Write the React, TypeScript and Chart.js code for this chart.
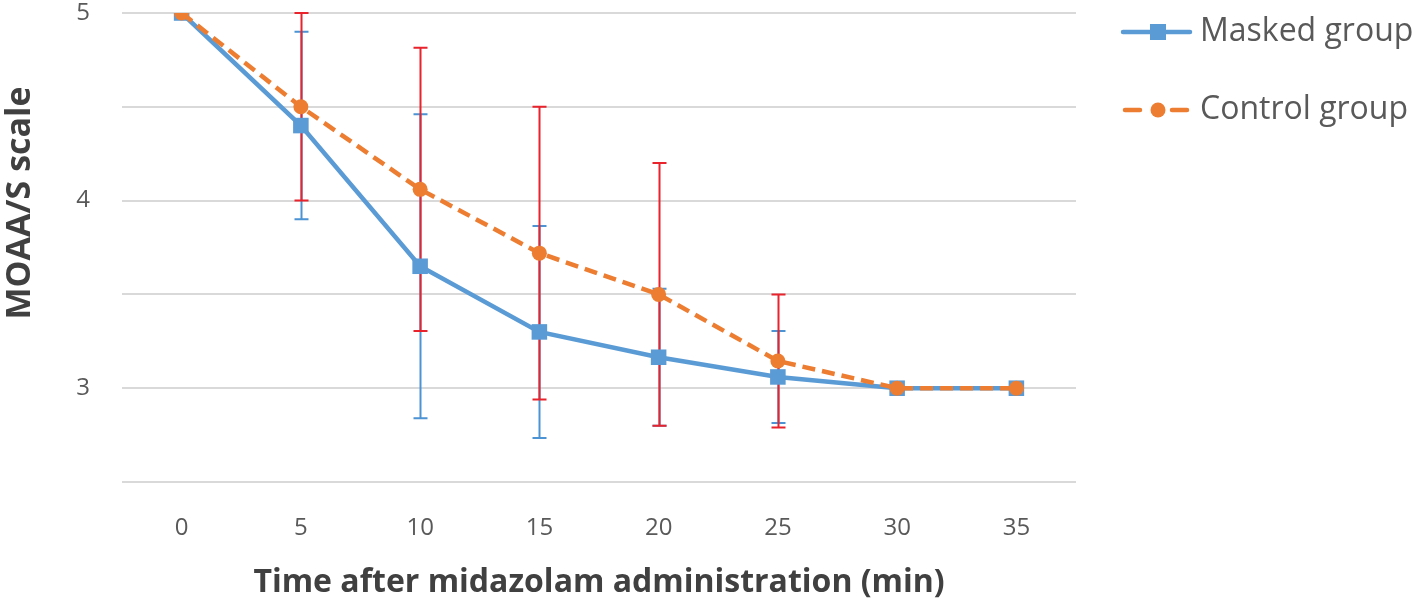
import React, { useEffect, useRef } from 'react';
import { Chart, registerables } from 'chart.js';

Chart.register(...registerables);

const timeLabels = ['0', '5', '10', '15', '20', '25', '30', '35'];
const maskedMeans = [5, 4.4, 3.65, 3.3, 3.165, 3.06, 3, 3];
const maskedSD = [0, 0.5, 0.81, 0.565, 0.365, 0.245, 0, 0];
const controlMeans = [5, 4.5, 4.06, 3.72, 3.5, 3.145, 3, 3];
const controlSD = [0, 0.5, 0.755, 0.78, 0.7, 0.355, 0, 0];
const yTickLabels = [3, 4, 5];
const seriesNames = ['Masked group', 'Control group'];
const xTitle = 'Time after midazolam administration (min)';
const yTitle = 'MOAA/S scale';

const BLUE = '#5b9bd5';
const ORANGE = '#ed7d31';
const BLUE_ERR = '#4b93d3';
const RED_ERR = '#e8232c';

const errorBarPlugin = {
  id: 'errorBars',
  beforeDatasetsDraw(chart: any) {
    const { ctx } = chart;
    const xs = chart.scales.x;
    const ys = chart.scales.y;
    const sets = [
      { means: maskedMeans, sd: maskedSD, color: BLUE_ERR },
      { means: controlMeans, sd: controlSD, color: RED_ERR },
    ];
    ctx.save();
    ctx.lineWidth = 2;
    for (const s of sets) {
      ctx.strokeStyle = s.color;
      s.means.forEach((m, i) => {
        const e = s.sd[i];
        if (!e) return;
        const px = Math.round(xs.getPixelForValue(i)) + 0.5;
        const top = ys.getPixelForValue(m + e);
        const bot = ys.getPixelForValue(m - e);
        ctx.beginPath();
        ctx.moveTo(px, top);
        ctx.lineTo(px, bot);
        ctx.moveTo(px - 7, top);
        ctx.lineTo(px + 7, top);
        ctx.moveTo(px - 7, bot);
        ctx.lineTo(px + 7, bot);
        ctx.stroke();
      });
    }
    ctx.restore();
  },
};

const legendPlugin = {
  id: 'customLegend',
  afterDraw(chart: any) {
    const { ctx, chartArea } = chart;
    const x0 = chartArea.right + 47;
    ctx.save();
    // Masked group
    let y = 32;
    ctx.strokeStyle = BLUE;
    ctx.lineWidth = 4.5;
    ctx.lineCap = 'round';
    ctx.beginPath();
    ctx.moveTo(x0, y);
    ctx.lineTo(x0 + 67, y);
    ctx.stroke();
    ctx.fillStyle = BLUE;
    ctx.fillRect(x0 + 27, y - 8, 16, 16);
    // Control group
    y = 110;
    ctx.strokeStyle = ORANGE;
    ctx.beginPath();
    ctx.moveTo(x0 + 2, y);
    ctx.lineTo(x0 + 17, y);
    ctx.moveTo(x0 + 49, y);
    ctx.lineTo(x0 + 64, y);
    ctx.stroke();
    ctx.fillStyle = ORANGE;
    ctx.beginPath();
    ctx.arc(x0 + 35, y, 7.5, 0, Math.PI * 2);
    ctx.fill();
    ctx.fillStyle = '#595959';
    ctx.font = '32px "Open Sans"';
    ctx.textBaseline = 'middle';
    ctx.textAlign = 'left';
    ctx.fillText(seriesNames[0], x0 + 77, 32);
    ctx.fillText(seriesNames[1], x0 + 77, 110);
    // y axis title
    ctx.save();
    ctx.translate(20, 203);
    ctx.rotate(-Math.PI / 2);
    ctx.fillStyle = '#404040';
    ctx.font = 'bold 34px "Open Sans"';
    ctx.textAlign = 'center';
    ctx.textBaseline = 'middle';
    ctx.fillText(yTitle, 0, 0);
    ctx.restore();
    ctx.restore();
  },
};

export default function App() {
  const ref = useRef<HTMLCanvasElement | null>(null);
  useEffect(() => {
    if (!ref.current) return;
    const chart = new Chart(ref.current, {
      type: 'line',
      data: {
        labels: timeLabels,
        datasets: [
          {
            label: seriesNames[0],
            data: maskedMeans,
            borderColor: BLUE,
            backgroundColor: BLUE,
            borderWidth: 4.5,
            pointStyle: 'rect',
            pointRadius: 11,
            pointBorderWidth: 0,
            tension: 0,
            order: 2,
          },
          {
            label: seriesNames[1],
            data: controlMeans,
            borderColor: ORANGE,
            backgroundColor: ORANGE,
            borderWidth: 4.5,
            borderDash: [13, 7],
            pointStyle: 'circle',
            pointRadius: 7.5,
            pointBorderWidth: 0,
            tension: 0,
            order: 1,
          },
        ],
      },
      options: {
        animation: false,
        responsive: true,
        maintainAspectRatio: false,
        layout: { padding: { top: 13, right: 340, left: 0, bottom: 0 } },
        plugins: { legend: { display: false }, tooltip: { enabled: false } },
        scales: {
          x: {
            type: 'category',
            offset: true,
            grid: { display: false },
            border: { display: false },
            ticks: {
              color: '#595959',
              font: { family: '"Open Sans"', size: 24 },
              padding: 24,
              maxRotation: 0,
            },
            title: {
              display: true,
              text: xTitle,
              color: '#404040',
              font: { family: '"Open Sans"', size: 32, weight: 'bold' },
              padding: { top: 0, bottom: 2 },
            },
            afterFit(scale: any) {
              scale.height = 122;
            },
          },
          y: {
            min: 2.5,
            max: 5,
            grid: { color: '#d9d9d9', lineWidth: 2, drawTicks: false },
            border: { display: false },
            ticks: {
              stepSize: 0.5,
              color: '#595959',
              font: { family: '"Open Sans"', size: 24 },
              padding: 32,
              callback: (v: any) => (yTickLabels.includes(Number(v)) ? String(v) : ''),
            },
            title: { display: false },
            afterFit(scale: any) {
              scale.width = 122;
              scale.paddingTop = 0;
              scale.paddingBottom = 0;
            },
          },
        },
      },
      plugins: [errorBarPlugin, legendPlugin],
    });
    return () => chart.destroy();
  }, []);
  return (
    <div style={{ position: 'absolute', left: 0, top: 0, width: 1416, height: 604, background: '#fff' }}>
      <canvas ref={ref} />
    </div>
  );
}
